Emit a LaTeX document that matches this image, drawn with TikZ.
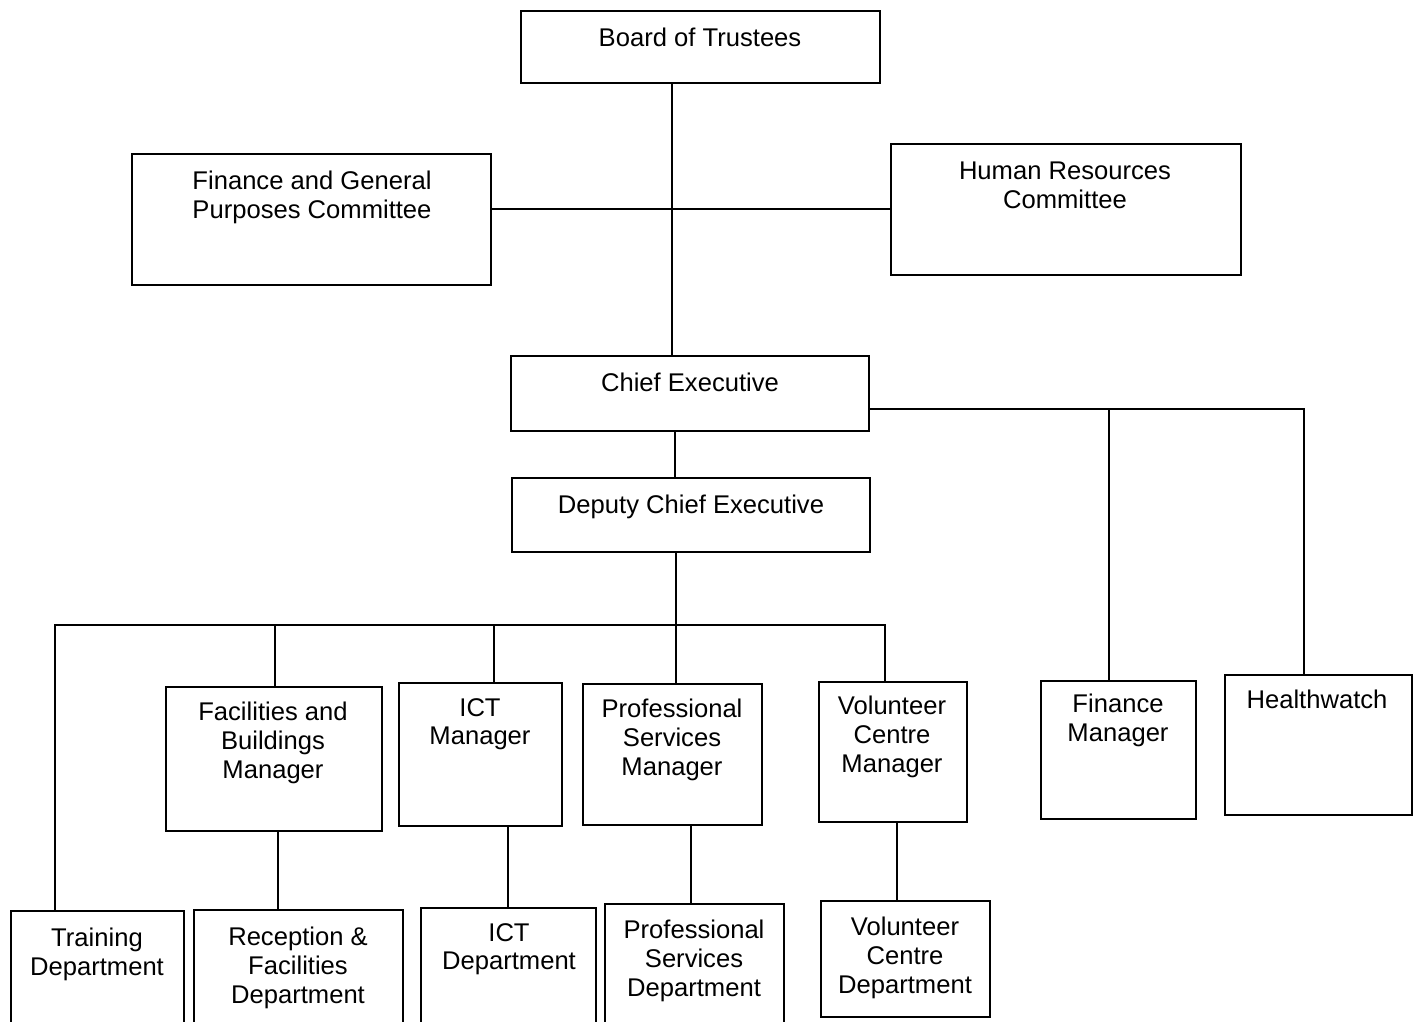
\documentclass[tikz,border=0pt]{standalone}
\usepackage{fontspec}
\setmainfont{Liberation Sans}
\begin{document}
\begin{tikzpicture}[x=1pt,y=-1pt,
  box/.style={draw=black, line width=2.4pt, anchor=north west, inner sep=0pt, fill=white},
  lbl/.style={anchor=north, align=center, inner sep=0pt, font=\fontsize{25.6}{28.8}\selectfont},
  conn/.style={draw=black, line width=2.1pt}]
\useasboundingbox (0,0) rectangle (1418,1022);
\clip (0,0) rectangle (1418,1022);
% boxes
\node[box, minimum width=359pt, minimum height=72pt] (bot) at (520,10) {};
\node[box, minimum width=359pt, minimum height=131pt] (fgpc) at (131,153) {};
\node[box, minimum width=350pt, minimum height=131pt] (hr) at (890,143) {};
\node[box, minimum width=358pt, minimum height=75pt] (ce) at (510,355) {};
\node[box, minimum width=358pt, minimum height=74pt] (dce) at (511,477) {};
\node[box, minimum width=216pt, minimum height=144pt] (fac) at (165,686) {};
\node[box, minimum width=163pt, minimum height=143pt] (ictm) at (398,682) {};
\node[box, minimum width=179pt, minimum height=141pt] (psm) at (582,683) {};
\node[box, minimum width=148pt, minimum height=140pt] (vcm) at (818,681) {};
\node[box, minimum width=155pt, minimum height=138pt] (fm) at (1040,680) {};
\node[box, minimum width=187pt, minimum height=140pt] (hw) at (1224,674) {};
\node[box, minimum width=173pt, minimum height=140pt] (td) at (10,910) {};
\node[box, minimum width=209pt, minimum height=141pt] (rfd) at (193,909) {};
\node[box, minimum width=175pt, minimum height=143pt] (ictd) at (420,907) {};
\node[box, minimum width=179pt, minimum height=147pt] (psd) at (604,903) {};
\node[box, minimum width=169pt, minimum height=116pt] (vcd) at (820,900) {};
% labels
\node[lbl] (tbot) at (700,28) {Board of Trustees};
\node[lbl] (tfgpc) at (312,171) {Finance and General\\Purposes Committee};
\node[lbl] (thr) at (1065,162) {Human Resources\\Committee};
\node[lbl] (tce) at (690,373) {Chief Executive};
\node[lbl] (tdce) at (691,495) {Deputy Chief Executive};
\node[lbl] (tfac) at (273,702) {Facilities and\\Buildings\\Manager};
\node[lbl] (tictm) at (480,698) {ICT\\Manager};
\node[lbl] (tpsm) at (672,699) {Professional\\Services\\Manager};
\node[lbl] (tvcm) at (892,696) {Volunteer\\Centre\\Manager};
\node[lbl] (tfm) at (1118,694) {Finance\\Manager};
\node[lbl] (thw) at (1317,690) {Healthwatch};
\node[lbl] (ttd) at (97,928) {Training\\Department};
\node[lbl] (trfd) at (298,927) {Reception \&\\Facilities\\Department};
\node[lbl] (tictd) at (509,923) {ICT\\Department};
\node[lbl] (tpsd) at (694,920) {Professional\\Services\\Department};
\node[lbl] (tvcd) at (905,917) {Volunteer\\Centre\\Department};
% routing coordinates
\coordinate (xa) at (672,0);
\coordinate (ya) at (0,209);
\coordinate (xb) at (675,0);
\coordinate (yb) at (0,409);
\coordinate (cfm) at (1109,409);
\coordinate (chw) at (1304,409);
\coordinate (xc) at (676,0);
\coordinate (ctd) at (55,625);
\coordinate (cfac) at (275,625);
\coordinate (cictm) at (494,625);
\coordinate (cvcm) at (885,625);
\coordinate (xd1) at (278,0);
\coordinate (xd2) at (508,0);
\coordinate (xd3) at (691,0);
\coordinate (xd4) at (897,0);
% connectors
\draw[conn] (bot.south -| xa) -- (ce.north -| xa);
\draw[conn] (fgpc.east |- ya) -- (hr.west |- ya);
\draw[conn] (ce.south -| xb) -- (dce.north -| xb);
\draw[conn] (ce.east |- yb) -- (chw) -- (hw.north -| chw);
\draw[conn] (cfm) -- (fm.north -| cfm);
\draw[conn] (dce.south -| xc) -- (psm.north -| xc);
\draw[conn] (td.north -| ctd) -- (ctd) -- (cvcm) -- (vcm.north -| cvcm);
\draw[conn] (cfac) -- (fac.north -| cfac);
\draw[conn] (cictm) -- (ictm.north -| cictm);
\draw[conn] (fac.south -| xd1) -- (rfd.north -| xd1);
\draw[conn] (ictm.south -| xd2) -- (ictd.north -| xd2);
\draw[conn] (psm.south -| xd3) -- (psd.north -| xd3);
\draw[conn] (vcm.south -| xd4) -- (vcd.north -| xd4);
\end{tikzpicture}
\end{document}
